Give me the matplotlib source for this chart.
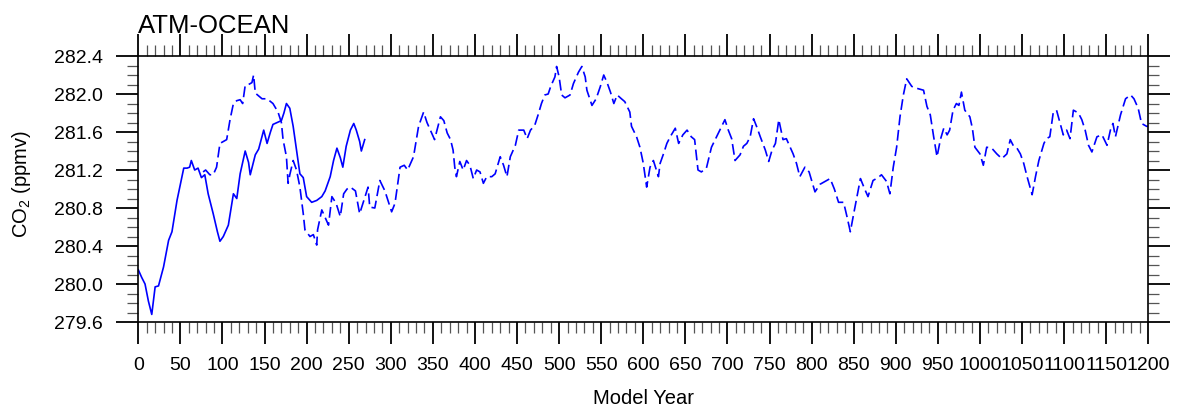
"""ATM-OCEAN CO2 time series, NCL-style panel."""

import matplotlib

matplotlib.use("Agg")
import matplotlib.pyplot as plt
from matplotlib.ticker import MultipleLocator

plt.rcParams["font.family"] = ["Liberation Sans", "DejaVu Sans"]
plt.rcParams["mathtext.fontset"] = "custom"
plt.rcParams["mathtext.rm"] = "Liberation Sans"
plt.rcParams["mathtext.it"] = "Liberation Sans:italic"
plt.rcParams["mathtext.bf"] = "Liberation Sans:bold"

TITLE = "ATM-OCEAN"
XLABEL = "Model Year"
YLABEL = "CO$_2$ (ppmv)"
LINE = "#0000ff"

# Solid run (first ~270 years).
solid_year = [0, 4, 8, 12, 16, 20, 24, 30, 36, 40, 46, 50, 54, 58, 61, 63, 67, 71,
              75, 79, 83, 89, 94, 97, 101, 107, 113, 117, 121, 127, 131, 133, 139,
              143, 149, 153, 157, 160, 165, 170, 173, 176, 180, 184, 188, 192, 196,
              200, 206, 212, 218, 222, 228, 232, 236, 240, 243, 247, 252, 256, 259,
              263, 265, 269]
solid_co2 = [280.15, 280.07, 280.00, 279.82, 279.68, 279.97, 279.98, 280.18, 280.46,
             280.55, 280.88, 281.05, 281.22, 281.22, 281.23, 281.30, 281.20, 281.22,
             281.12, 281.15, 280.95, 280.74, 280.55, 280.45, 280.50, 280.62, 280.95,
             280.90, 281.16, 281.40, 281.28, 281.15, 281.36, 281.42, 281.62, 281.48,
             281.60, 281.68, 281.70, 281.72, 281.80, 281.90, 281.85, 281.66, 281.41,
             281.16, 281.12, 280.92, 280.86, 280.88, 280.92, 280.98, 281.13, 281.30,
             281.43, 281.33, 281.23, 281.45, 281.62, 281.69, 281.62, 281.50, 281.40,
             281.52]

# Dashed run (year ~77 to 1200).
dash_year = [77, 80, 85, 89, 93, 97, 101, 105, 109, 113, 117, 121, 124, 127, 131, 135,
             137, 139, 143, 147, 153, 160, 166, 170, 172, 176, 178, 180, 184, 188, 192,
             196, 198, 204, 208, 212, 213, 218, 222, 226, 230, 235, 240, 244, 248, 252,
             258, 263, 268, 273, 275, 281, 287, 293, 301, 305, 311, 316, 320, 327, 333,
             339, 343, 347, 352, 359, 363, 367, 371, 374, 376, 378, 382, 386, 390, 394,
             398, 402, 406, 410, 414, 420, 424, 430, 434, 438, 442, 448, 452, 458, 462,
             466, 471, 475, 479, 483, 487, 490, 495, 497, 500, 503, 507, 513, 517, 523,
             527, 531, 533, 539, 544, 549, 553, 557, 561, 565, 569, 574, 578, 584, 586,
             592, 596, 600, 604, 608, 612, 618, 620, 624, 628, 632, 638, 642, 647, 652,
             657, 661, 665, 669, 675, 681, 686, 691, 697, 701, 705, 709, 715, 719, 723,
             727, 731, 735, 739, 745, 749, 753, 757, 761, 766, 770, 774, 778, 782, 786,
             792, 797, 804, 810, 816, 822, 827, 832, 838, 842, 846, 850, 858, 863, 867,
             873, 879, 883, 889, 893, 897, 901, 905, 909, 913, 919, 925, 933, 937, 941,
             945, 949, 953, 957, 961, 964, 968, 972, 975, 978, 982, 988, 991, 994, 1000,
             1004, 1008, 1014, 1020, 1026, 1032, 1036, 1040, 1044, 1048, 1052, 1056,
             1062, 1066, 1070, 1076, 1079, 1083, 1087, 1091, 1095, 1099, 1103, 1107,
             1111, 1117, 1121, 1125, 1129, 1133, 1139, 1145, 1151, 1155, 1158, 1161,
             1167, 1173, 1179, 1183, 1188, 1192, 1198, 1200]
dash_co2 = [281.18, 281.20, 281.15, 281.15, 281.23, 281.48, 281.50, 281.52, 281.73,
            281.90, 281.93, 281.94, 281.90, 282.09, 282.10, 282.12, 282.20, 282.01,
            281.98, 281.95, 281.95, 281.90, 281.81, 281.70, 281.52, 281.34, 281.06,
            281.15, 281.30, 281.20, 281.02, 280.74, 280.57, 280.50, 280.52, 280.41,
            280.57, 280.78, 280.70, 280.62, 280.92, 280.85, 280.71, 280.95, 281.00,
            281.02, 280.98, 280.74, 280.88, 281.02, 280.81, 280.80, 281.09, 280.98,
            280.76, 280.85, 281.23, 281.25, 281.20, 281.34, 281.66, 281.81, 281.70,
            281.62, 281.52, 281.76, 281.72, 281.59, 281.52, 281.41, 281.23, 281.13,
            281.29, 281.20, 281.30, 281.25, 281.11, 281.20, 281.18, 281.06, 281.13,
            281.13, 281.16, 281.34, 281.25, 281.13, 281.34, 281.46, 281.62, 281.62,
            281.53, 281.62, 281.67, 281.78, 281.90, 281.99, 282.00, 282.08, 282.18,
            282.29, 282.18, 281.99, 281.96, 281.99, 282.11, 282.23, 282.29, 282.18,
            282.04, 281.88, 281.95, 282.08, 282.20, 282.12, 282.02, 281.90, 281.99,
            281.95, 281.92, 281.81, 281.66, 281.55, 281.44, 281.27, 281.02, 281.23,
            281.30, 281.13, 281.27, 281.37, 281.48, 281.55, 281.64, 281.48, 281.57,
            281.62, 281.55, 281.52, 281.20, 281.18, 281.22, 281.44, 281.53, 281.62,
            281.73, 281.62, 281.53, 281.30, 281.36, 281.45, 281.48, 281.55, 281.74,
            281.65, 281.55, 281.41, 281.29, 281.41, 281.48, 281.73, 281.52, 281.53,
            281.45, 281.37, 281.27, 281.13, 281.23, 281.18, 280.97, 281.05, 281.08,
            281.11, 281.00, 280.86, 280.86, 280.71, 280.55, 280.74, 281.11, 281.00,
            280.92, 281.09, 281.12, 281.15, 281.08, 280.95, 281.23, 281.44, 281.76,
            281.99, 282.16, 282.08, 282.06, 282.04, 281.87, 281.78, 281.55, 281.34,
            281.52, 281.64, 281.57, 281.62, 281.83, 281.90, 281.88, 282.02, 281.83,
            281.76, 281.64, 281.44, 281.37, 281.25, 281.44, 281.43, 281.37, 281.32,
            281.37, 281.52, 281.45, 281.43, 281.37, 281.27, 281.13, 280.94, 281.13,
            281.30, 281.48, 281.53, 281.55, 281.80, 281.83, 281.70, 281.57, 281.62,
            281.53, 281.83, 281.80, 281.73, 281.62, 281.46, 281.39, 281.55, 281.57,
            281.46, 281.62, 281.69, 281.55, 281.78, 281.95, 281.99, 281.95, 281.85,
            281.69, 281.66, 281.66]

xticks = list(range(0, 1201, 50))
yticks = [279.6, 280.0, 280.4, 280.8, 281.2, 281.6, 282.0, 282.4]

fig = plt.figure(figsize=(11.77, 4.11), dpi=100)
ax = fig.add_axes([0.1175, 0.2165, 0.8581, 0.6472])

ax.plot(solid_year, solid_co2, color=LINE, lw=1.2, solid_joinstyle="round")
ax.plot(dash_year, dash_co2, color=LINE, lw=1.2, dashes=(6.5, 2.8))

ax.set_xlim(0, 1200)
ax.set_ylim(279.6, 282.4)
ax.set_xticks(xticks)
ax.set_xticklabels([str(t) for t in xticks])
ax.set_yticks(yticks)
ax.set_yticklabels([f"{t:.1f}" for t in yticks])
ax.xaxis.set_minor_locator(MultipleLocator(10))
ax.yaxis.set_minor_locator(MultipleLocator(0.1))

ax.tick_params(which="both", direction="out", top=True, right=True, colors="black")
ax.tick_params(which="major", length=15.5, width=1.3, labelsize=14, pad=10)
ax.tick_params(which="minor", length=8, width=0.9, color="#555555")
for spine in ax.spines.values():
    spine.set_linewidth(1.2)

ax.set_xlabel(XLABEL, fontsize=14.5)
ax.set_ylabel(YLABEL, fontsize=14.5)
ax.xaxis.set_label_coords(0.5, -0.25)
ax.yaxis.set_label_coords(-0.104, 0.52)

fig.text(138.3 / 1177, 1 - 33 / 411, TITLE, fontsize=18.5, ha="left", va="baseline")

fig.savefig("out.png", dpi=100, facecolor="white")
plt.close(fig)
